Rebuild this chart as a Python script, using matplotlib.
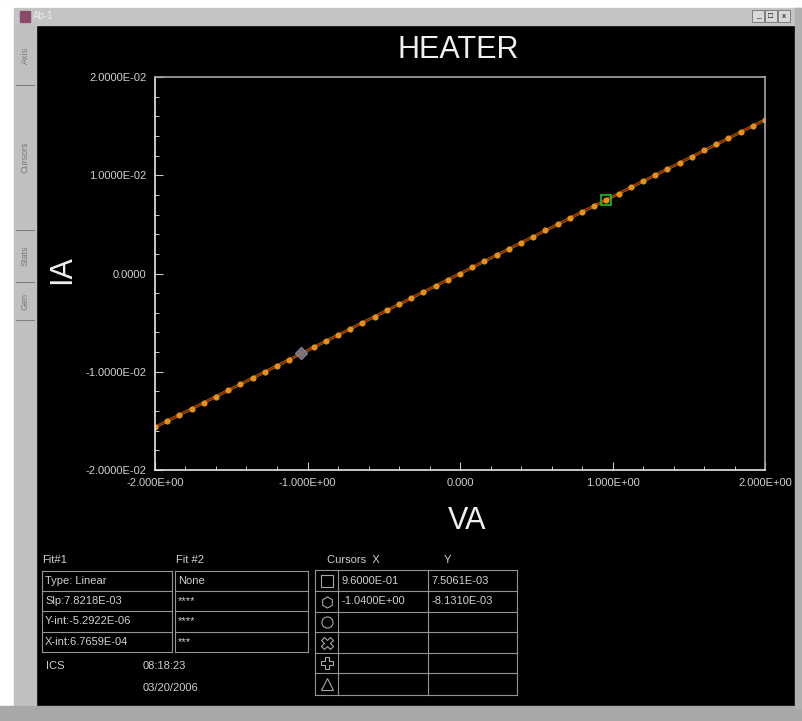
import matplotlib
matplotlib.use("Agg")
import matplotlib.pyplot as plt
from matplotlib.patches import Rectangle
from matplotlib.ticker import MultipleLocator

plt.rcParams['font.family'] = ['Liberation Sans', 'DejaVu Sans']

# Measured sweep (V, A)
volts = [-2.00, -1.92, -1.84, -1.76, -1.68, -1.60, -1.52, -1.44, -1.36, -1.28,
         -1.20, -1.12, -1.04, -0.96, -0.88, -0.80, -0.72, -0.64, -0.56, -0.48,
         -0.40, -0.32, -0.24, -0.16, -0.08, 0.00, 0.08, 0.16, 0.24, 0.32,
         0.40, 0.48, 0.56, 0.64, 0.72, 0.80, 0.88, 0.96, 1.04, 1.12,
         1.20, 1.28, 1.36, 1.44, 1.52, 1.60, 1.68, 1.76, 1.84, 1.92, 2.00]
amps = [-15.64e-3, -15.02e-3, -14.39e-3, -13.77e-3, -13.14e-3, -12.52e-3, -11.89e-3, -11.26e-3,
        -10.64e-3, -10.01e-3, -9.39e-3, -8.76e-3, -8.13e-3, -7.51e-3, -6.88e-3, -6.26e-3,
        -5.63e-3, -5.01e-3, -4.38e-3, -3.75e-3, -3.13e-3, -2.50e-3, -1.88e-3, -1.25e-3,
        -0.63e-3, 0.00, 0.63e-3, 1.25e-3, 1.88e-3, 2.50e-3, 3.13e-3, 3.75e-3,
        4.38e-3, 5.01e-3, 5.63e-3, 6.26e-3, 6.88e-3, 7.51e-3, 8.13e-3, 8.76e-3,
        9.39e-3, 10.01e-3, 10.64e-3, 11.26e-3, 11.89e-3, 12.52e-3, 13.14e-3, 13.77e-3,
        14.39e-3, 15.02e-3, 15.64e-3]

# Linear fit end points
fit_v = [-2.0, 2.0]
fit_i = [-15.649e-3, 15.638e-3]

# Cursors
cursor_x = [9.6000e-01, -1.0400e+00]
cursor_y = [7.5061e-03, -8.1310e-03]
cursor_x_text = ["9.6000E-01", "-1.0400E+00"]
cursor_y_text = ["7.5061E-03", "-8.1310E-03"]

x_ticks = [-2, -1, 0, 1, 2]
x_tick_labels = ["-2.000E+00", "-1.000E+00", "0.000", "1.000E+00", "2.000E+00"]
y_ticks = [-0.02, -0.01, 0.0, 0.01, 0.02]
y_tick_labels = ["-2.0000E-02", "-1.0000E-02", "0.0000", "1.0000E-02", "2.0000E-02"]

fit1_rows = ["Type: Linear", "Slp:7.8218E-03", "Y-int:-5.2922E-06", "X-int:6.7659E-04"]
fit2_rows = ["None", "****", "****", "***"]
tabs = ["Axis", "Cursors", "Stats", "Gen"]

W, H = 802, 721
TXT = '#d0d0d0'
GRID = '#949494'


def main():
    fig = plt.figure(figsize=(W / 100, H / 100), dpi=100, facecolor='black')

    # overlay in pixel coordinates for the window chrome and tables
    ov = fig.add_axes([0, 0, 1, 1], zorder=0)
    ov.set_xlim(0, W)
    ov.set_ylim(H, 0)
    ov.axis('off')

    ov.add_patch(Rectangle((0, 0), W, 8, color='white'))
    ov.add_patch(Rectangle((0, 0), 14, H, color='white'))
    ov.add_patch(Rectangle((14, 8), W - 14, 17, color='#c4c4c4'))
    ov.add_patch(Rectangle((14, 25), 22, 681, color='#c0c0c0'))
    ov.add_patch(Rectangle((0, 706), W, 15, color='#a8a8a8'))
    ov.add_patch(Rectangle((795, 8), 7, 700, color='#b0b0b0'))
    ov.add_patch(Rectangle((20, 11), 10, 11, color='#8a4a6a'))
    ov.text(33, 16, "Ab-1", fontsize=7, color='#e8e8e8', va='center')
    for bx in (752, 765, 778):
        ov.add_patch(Rectangle((bx, 10), 12, 12, facecolor='#d8d8d8', edgecolor='#707070', lw=0.6))
    ov.text(758, 16, "_", fontsize=6, ha='center', va='center', color='black')
    ov.text(771, 16, "\u25a1", fontsize=6, ha='center', va='center', color='black')
    ov.text(784, 16, "x", fontsize=6, ha='center', va='center', color='black')

    # side tabs
    for y0 in (85, 230, 282, 320):
        ov.plot([16, 34], [y0, y0], color='#808080', lw=0.8)
    for label, yc in zip(tabs, [55, 157, 256, 301]):
        ov.text(25, yc, label, rotation=90, fontsize=6.5, color='#7a7a7a', ha='center', va='center')

    # fit tables
    ov.text(42, 560, "Fit#1", fontsize=8, color=TXT, va='center')
    ov.text(176, 560, "Fit #2", fontsize=8, color=TXT, va='center')
    rows = [571, 591, 611, 632, 652]
    for x0, x1 in ((42, 172), (175, 308)):
        for y in rows:
            ov.plot([x0, x1], [y, y], color=GRID, lw=0.8)
        ov.plot([x0, x0], [rows[0], rows[-1]], color=GRID, lw=0.8)
        ov.plot([x1, x1], [rows[0], rows[-1]], color=GRID, lw=0.8)
    for i, (a, b) in enumerate(zip(fit1_rows, fit2_rows)):
        yc = (rows[i] + rows[i + 1]) / 2
        ov.text(45, yc, a, fontsize=8, color=TXT, va='center')
        ov.text(178, yc, b, fontsize=8, color=TXT, va='center')

    ov.text(46, 666, "ICS", fontsize=8, color=TXT, va='center')
    ov.text(143, 666, "08:18:23", fontsize=8, color=TXT, va='center')
    ov.text(143, 688, "03/20/2006", fontsize=8, color=TXT, va='center')

    # cursor table
    ov.text(327, 560, "Cursors  X", fontsize=8, color=TXT, va='center')
    ov.text(444, 560, "Y", fontsize=8, color=TXT, va='center')
    crow = [570, 591, 612, 632, 653, 673, 695]
    for y in crow:
        ov.plot([315, 517], [y, y], color=GRID, lw=0.8)
    for x in (315, 338, 428, 517):
        ov.plot([x, x], [crow[0], crow[-1]], color=GRID, lw=0.8)
    for i, (tx, ty) in enumerate(zip(cursor_x_text, cursor_y_text)):
        yc = (crow[i] + crow[i + 1]) / 2
        ov.text(342, yc, tx, fontsize=8, color=TXT, va='center')
        ov.text(431, yc, ty, fontsize=8, color=TXT, va='center')
    for i, m in enumerate(['s', 'h', 'o', 'X', 'P', '^']):
        yc = (crow[i] + crow[i + 1]) / 2
        ov.plot([326.5], [yc], marker=m, ms=8, mfc='none', mec='#a8a8a8', mew=0.8)

    # main plot
    ax = fig.add_axes([155 / W, 1 - 470 / H, 610 / W, 393 / H], zorder=1)
    ax.set_facecolor('black')
    ax.plot(fit_v, fit_i, color='#50c800', lw=2.0)
    ax.plot(volts, amps, color='#b01000', lw=1.4, marker='o', ms=3.4,
            mfc='#e8901c', mec='#e8901c')
    ax.plot([cursor_x[0]], [cursor_y[0]], marker='s', ms=7, mfc='none', mec='#20c020', mew=1.2)
    ax.plot([cursor_x[1]], [cursor_y[1]], marker='D', ms=6, mfc='#707088', mec='#9090a8',
            alpha=0.85)

    ax.set_xlim(-2, 2)
    ax.set_ylim(-0.02, 0.02)
    ax.set_xticks(x_ticks)
    ax.set_xticklabels(x_tick_labels)
    ax.set_yticks(y_ticks)
    ax.set_yticklabels(y_tick_labels)
    ax.xaxis.set_minor_locator(MultipleLocator(0.2))
    ax.yaxis.set_minor_locator(MultipleLocator(0.002))
    ax.tick_params(which='both', direction='in', colors='#c8c8c8', labelsize=8,
                   labelcolor=TXT, top=False, right=False)
    ax.tick_params(which='major', length=6, width=0.8, pad=6)
    ax.tick_params(which='minor', length=3, width=0.7)
    for side in ('left', 'bottom'):
        ax.spines[side].set_color('#e8e8e8')
        ax.spines[side].set_linewidth(1.2)
    for side in ('top', 'right'):
        ax.spines[side].set_color('#a8a8a8')
        ax.spines[side].set_linewidth(1.2)

    fig.text(458 / W, 1 - 50 / H, "HEATER", fontsize=22, color='#f0f0f0', ha='center', va='center')
    fig.text(62 / W, 1 - 270 / H, "IA", fontsize=22, color='#f0f0f0', ha='center', va='center',
             rotation=90)
    fig.text(467 / W, 1 - 521 / H, "VA", fontsize=22, color='#f0f0f0', ha='center', va='center')

    fig.savefig("out.png", dpi=100, facecolor='black')


if __name__ == "__main__":
    main()
